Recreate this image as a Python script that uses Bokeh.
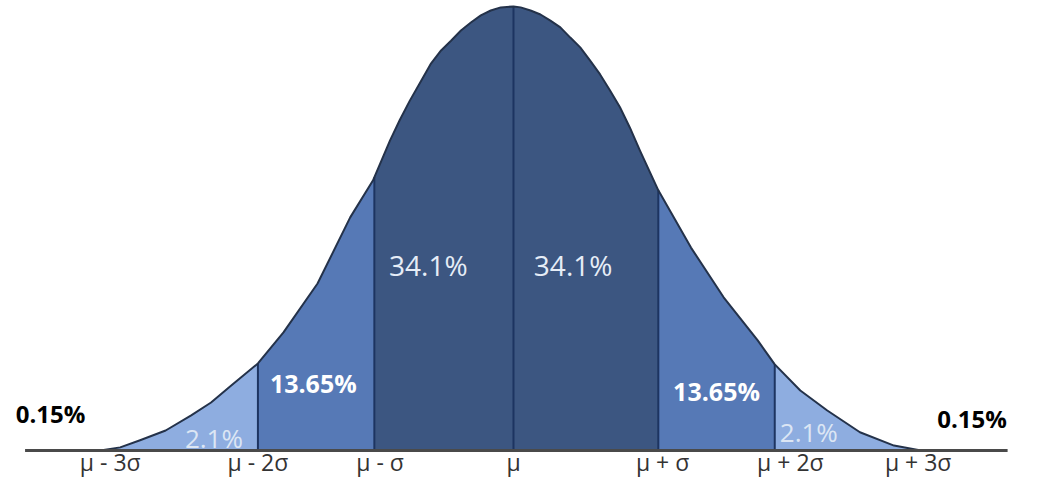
import numpy as np
from bokeh.plotting import figure
from bokeh.models import Range1d
from bokeh.core.properties import value
from bokeh.embed import file_html
from bokeh.resources import INLINE

# Curve (x in sigma units, height relative to peak)
curve_x = [-2.91, -2.77, -2.63, -2.45, -2.27, -2.13, -1.99, -1.80, -1.62, -1.38,
           -1.15, -0.99, -0.87, -0.80, -0.73, -0.65, -0.58, -0.51, -0.44, -0.37,
           -0.30, -0.23, -0.16, -0.09, 0.0, 0.05, 0.12, 0.19, 0.26, 0.33,
           0.40, 0.47, 0.54, 0.61, 0.68, 0.75, 0.82, 0.89, 1.02, 1.25,
           1.48, 1.72, 1.84, 2.02, 2.21, 2.44, 2.68, 2.87]
curve_y = [0.000, 0.007, 0.023, 0.045, 0.079, 0.108, 0.146, 0.196, 0.266, 0.376,
           0.525, 0.608, 0.698, 0.745, 0.788, 0.833, 0.872, 0.901, 0.923, 0.946,
           0.964, 0.980, 0.991, 0.998, 1.000, 0.998, 0.991, 0.982, 0.968, 0.953,
           0.930, 0.908, 0.878, 0.847, 0.811, 0.773, 0.727, 0.676, 0.586, 0.457,
           0.345, 0.248, 0.194, 0.135, 0.090, 0.041, 0.011, 0.000]

# Region boundaries (sigma positions as drawn)
boundaries = [-2.91, -1.80, -0.98, 0.0, 1.02, 1.84, 2.87]
region_colors = ["#8EADE0", "#5679B6", "#3C5681", "#3C5681", "#5679B6", "#8EADE0"]

# Tick labels
tick_pos = [-2.84, -1.80, -0.94, 0.0, 1.05, 1.95, 2.85]
tick_labels = ["\u03bc - 3\u03c3", "\u03bc - 2\u03c3", "\u03bc - \u03c3", "\u03bc",
               "\u03bc + \u03c3", "\u03bc + 2\u03c3", "\u03bc + 3\u03c3"]

# Percentage labels
pct_text = ["34.1%", "34.1%", "13.65%", "13.65%", "2.1%", "2.1%", "0.15%", "0.15%"]
pct_x = [-0.60, 0.42, -1.41, 1.43, -2.11, 2.08, -3.26, 3.23]
pct_y = [0.417, 0.417, 0.153, 0.135, 0.029, 0.041, 0.083, 0.072]
pct_color = ["#E6EDF7", "#E6EDF7", "#FFFFFF", "#FFFFFF", "#DCE6F4", "#DCE6F4", "#000000", "#000000"]
pct_style = ["normal", "normal", "bold", "bold", "normal", "normal", "bold", "bold"]
pct_size = ["28px", "28px", "25px", "25px", "26px", "26px", "24px", "24px"]

baseline_x = [-3.44, 3.48]

y_lo, y_hi = -0.0631, 1.0135

p = figure(width=1023, height=478, output_backend="svg", toolbar_location=None,
           x_range=Range1d(-3.613, 3.592), y_range=Range1d(y_lo, y_hi),
           min_border_left=0, min_border_right=0, min_border_top=0, min_border_bottom=0)
p.outline_line_color = None
p.xgrid.visible = False
p.ygrid.visible = False
p.xaxis.visible = False
p.yaxis.visible = False

cx = np.array(curve_x)
cy = np.array(curve_y)
for i in range(len(boundaries) - 1):
    a, b = boundaries[i], boundaries[i + 1]
    inner = cx[(cx > a) & (cx < b)]
    xs = np.concatenate([[a], inner, [b]])
    ys = np.interp(xs, cx, cy)
    px = list(xs) + [b, a]
    py = list(ys) + [0.0, 0.0]
    p.patch(px, py, fill_color=region_colors[i], line_color=None)

# boundary lines
inner_b = boundaries[1:-1]
p.segment(x0=inner_b, y0=[0] * len(inner_b), x1=inner_b,
          y1=list(np.interp(inner_b, cx, cy)), line_color="#1D3461", line_width=2)

# outline
p.line(curve_x, curve_y, line_color="#24324A", line_width=2, line_join="round")

# baseline
p.line(baseline_x, [0, 0], line_color="#4A4A4A", line_width=3)

for t, x, y, c, s, fs in zip(pct_text, pct_x, pct_y, pct_color, pct_style, pct_size):
    p.text(x=[x], y=[y], text=[t], text_color=c, text_font=value("Open Sans"),
           text_font_style=s, text_font_size=fs, text_align="center",
           text_baseline="middle")

# axis tick labels
p.text(x=tick_pos, y=[y_lo + 0.002] * len(tick_pos), text=tick_labels,
       text_color="#333333", text_font=value("Open Sans"), text_font_size="23px",
       text_align="center", text_baseline="bottom")

open("out.html", "w").write(file_html(p, INLINE))
